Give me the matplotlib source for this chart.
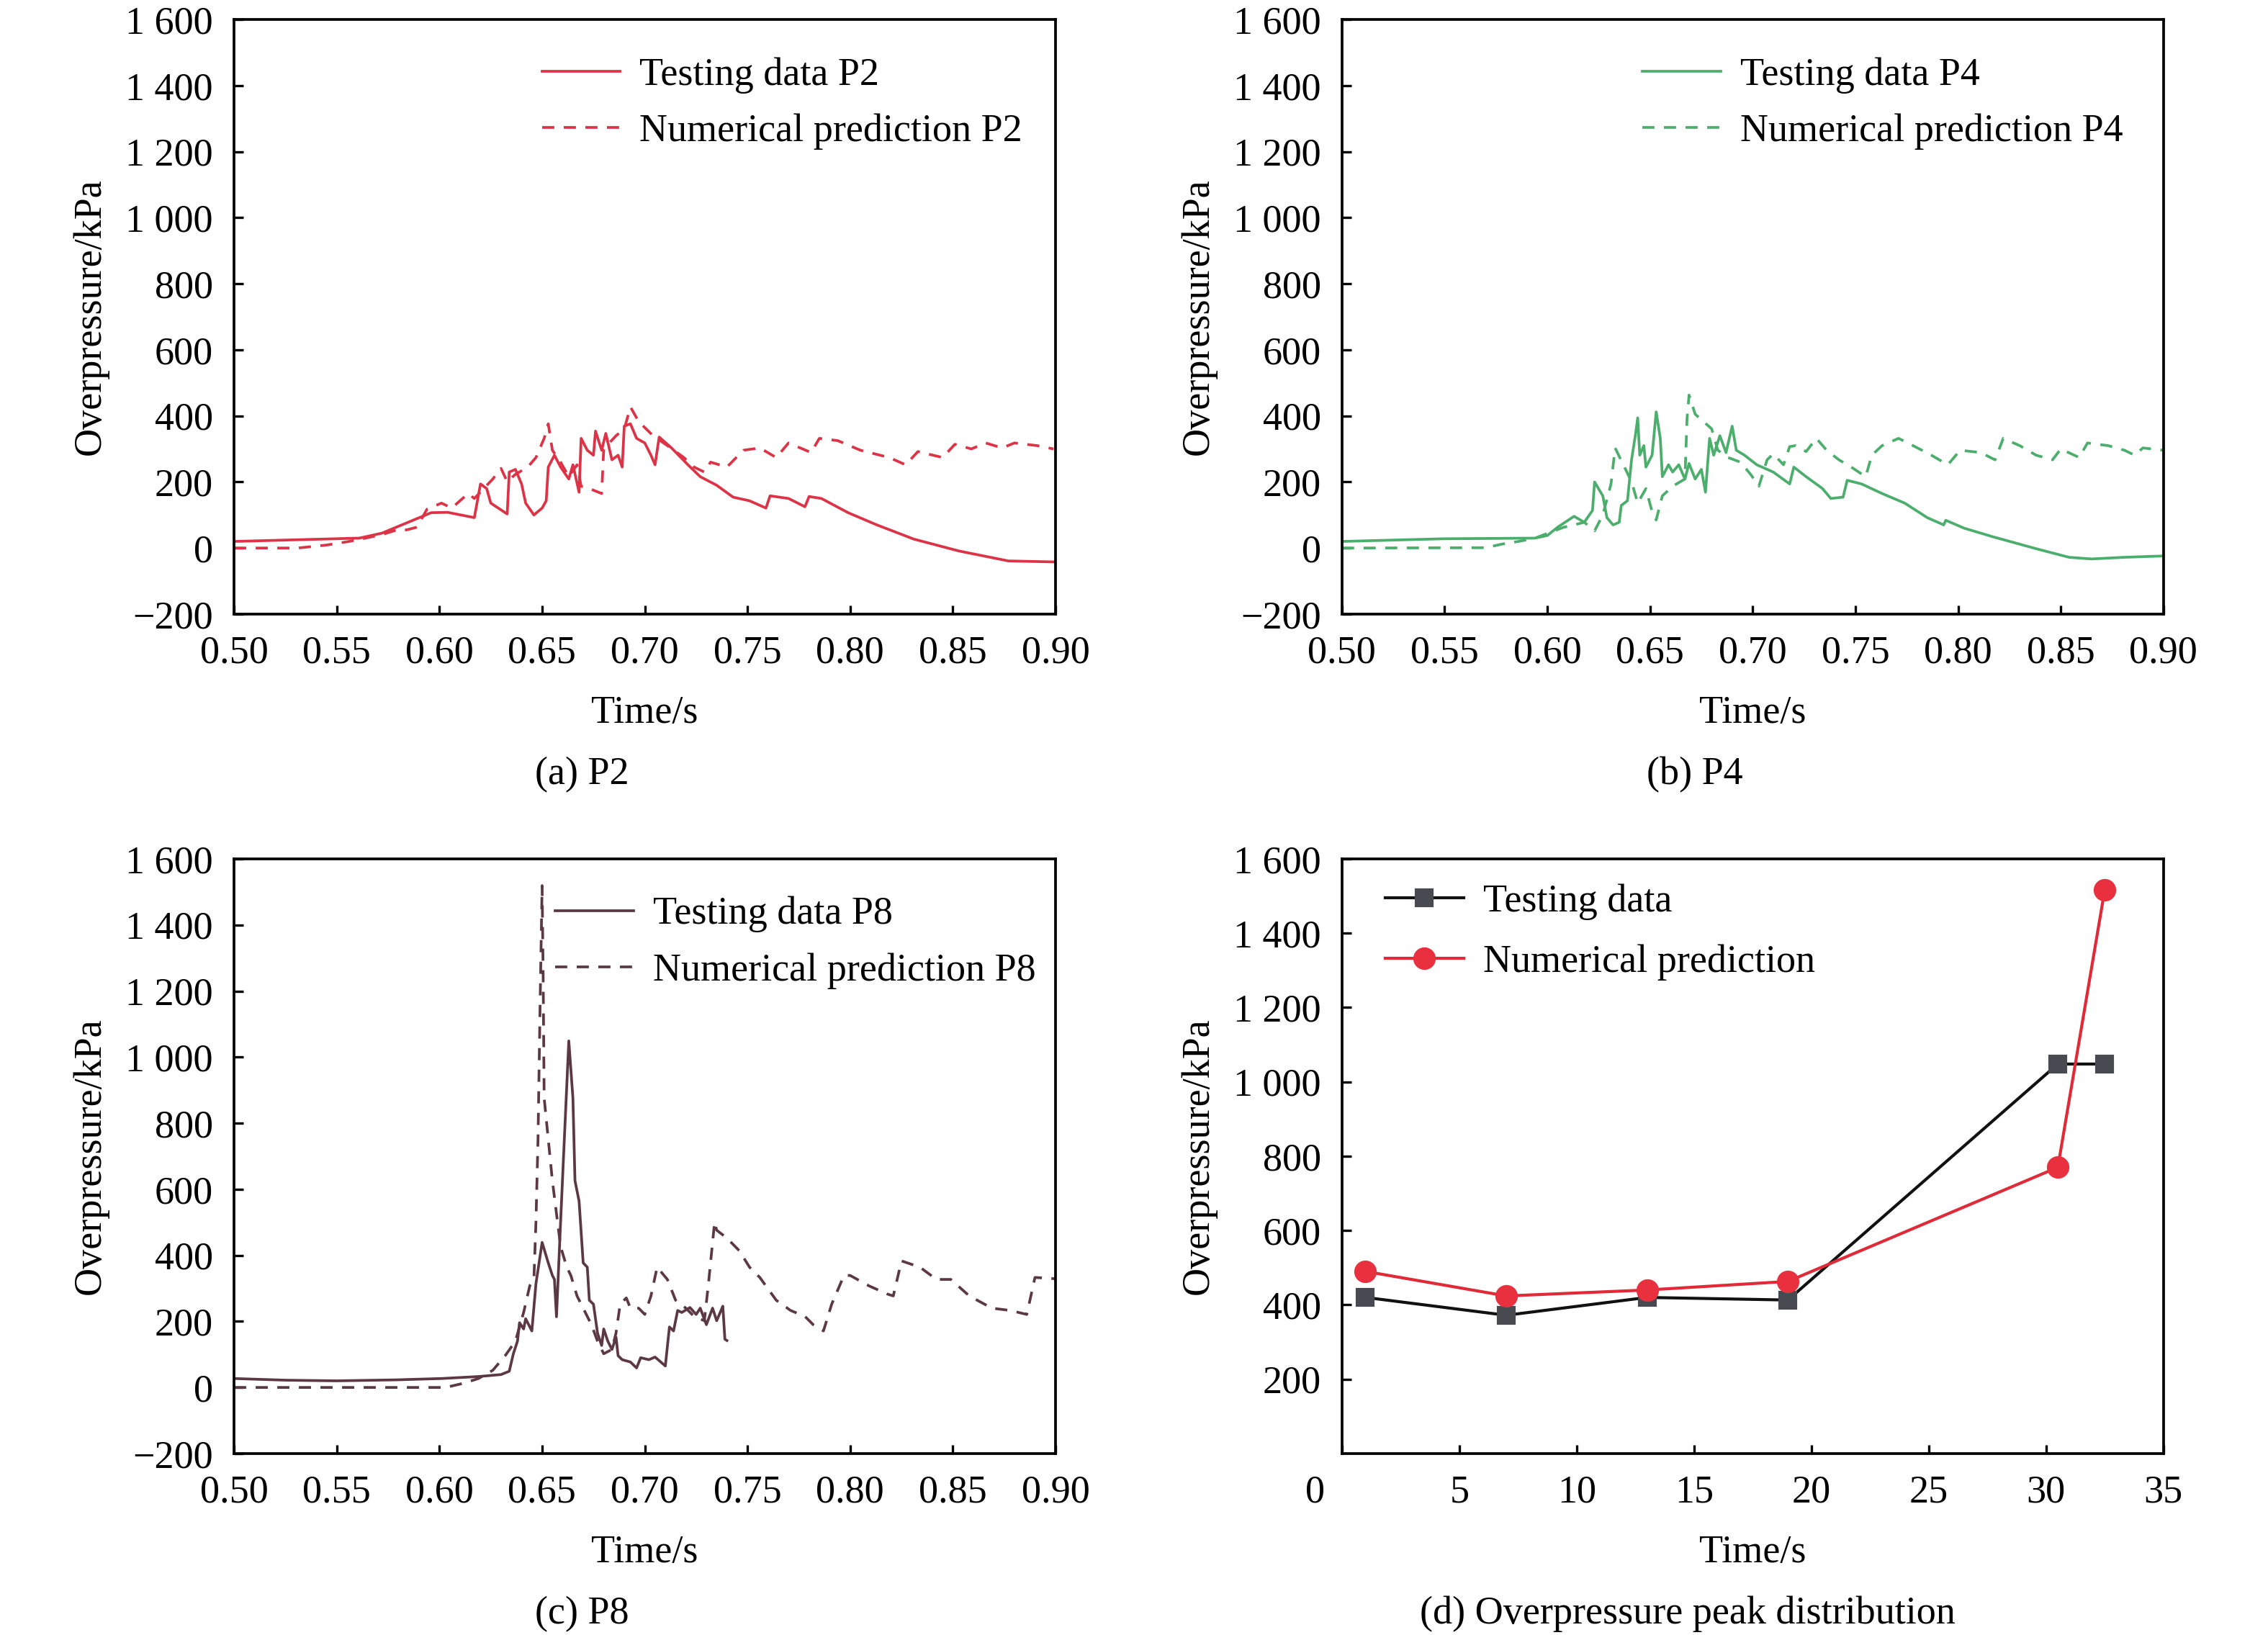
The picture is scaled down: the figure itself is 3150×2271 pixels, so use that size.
import numpy as np
import matplotlib.pyplot as plt
from matplotlib.ticker import FuncFormatter
import matplotlib.transforms as mtransforms

plt.rcParams['font.family'] = ['Liberation Serif', 'DejaVu Serif']
plt.rcParams['font.size'] = 13
plt.rcParams['mathtext.fontset'] = 'stix'

# (a) P2
p2_test_t = [0.500, 0.561, 0.572, 0.596, 0.604, 0.617, 0.620, 0.623, 0.625, 0.633, 0.634, 0.637,
             0.640, 0.642, 0.646, 0.650, 0.652, 0.653, 0.656, 0.659, 0.663, 0.665, 0.668, 0.669,
             0.672, 0.675, 0.676, 0.679, 0.681, 0.684, 0.687, 0.689, 0.690, 0.693, 0.696, 0.700,
             0.703, 0.705, 0.707, 0.713, 0.721, 0.727, 0.735, 0.743, 0.751, 0.759, 0.761, 0.770,
             0.778, 0.780, 0.786, 0.799, 0.813, 0.831, 0.853, 0.877, 0.899]
p2_test_p = [20, 30, 45, 107, 108, 92, 194, 180, 136, 103, 230, 238,
             194, 136, 100, 121, 143, 245, 281, 245, 209, 252, 169, 332,
             296, 281, 354, 296, 347, 267, 281, 245, 369, 376, 332, 318,
             281, 252, 336, 303, 252, 216, 190, 154, 143, 121, 158, 150,
             125, 156, 150, 107, 70, 27, -9, -39, -42]
p2_num_t = [0.500, 0.531, 0.545, 0.556, 0.564, 0.572, 0.580, 0.584, 0.589, 0.594, 0.601, 0.606,
            0.614, 0.617, 0.626, 0.630, 0.633, 0.637, 0.643, 0.647, 0.651, 0.653, 0.655, 0.659,
            0.663, 0.667, 0.669, 0.673, 0.679, 0.680, 0.686, 0.690, 0.693, 0.697, 0.704, 0.711,
            0.719, 0.724, 0.729, 0.732, 0.740, 0.748, 0.756, 0.764, 0.770, 0.781, 0.785, 0.794,
            0.805, 0.819, 0.827, 0.833, 0.845, 0.851, 0.859, 0.866, 0.874, 0.880, 0.891, 0.899]
p2_num_p = [0, 0, 9, 20, 30, 41, 56, 55, 63, 118, 136, 121,
            165, 150, 209, 241, 201, 223, 245, 274, 332, 376, 296, 260,
            216, 252, 187, 180, 165, 300, 340, 360, 427, 383, 340, 310,
            274, 245, 230, 260, 245, 296, 303, 274, 318, 289, 332, 325,
            296, 274, 252, 292, 274, 314, 300, 318, 303, 318, 310, 300]

# (b) P4
p4_test_t = [0.500, 0.549, 0.594, 0.600, 0.605, 0.613, 0.618, 0.622, 0.623, 0.627, 0.629, 0.632,
             0.635, 0.636, 0.639, 0.641, 0.643, 0.644, 0.645, 0.647, 0.648, 0.651, 0.653, 0.655,
             0.656, 0.659, 0.661, 0.664, 0.667, 0.669, 0.672, 0.675, 0.677, 0.679, 0.681, 0.684,
             0.687, 0.690, 0.692, 0.696, 0.702, 0.710, 0.718, 0.720, 0.726, 0.734, 0.738, 0.744,
             0.746, 0.753, 0.763, 0.774, 0.785, 0.793, 0.794, 0.803, 0.817, 0.838, 0.854, 0.865,
             0.881, 0.900]
p4_test_p = [20, 28, 30, 38, 63, 96, 78, 114, 200, 158, 92, 70,
             78, 129, 143, 267, 347, 394, 281, 310, 245, 281, 412, 332,
             216, 252, 230, 252, 209, 256, 209, 238, 169, 332, 281, 340,
             289, 369, 296, 281, 252, 230, 194, 245, 216, 180, 150, 154,
             205, 194, 165, 136, 92, 70, 84, 60, 34, -2, -28, -33,
             -28, -24]
p4_num_t = [0.500, 0.570, 0.578, 0.586, 0.594, 0.602, 0.608, 0.613, 0.618, 0.623, 0.627, 0.631,
            0.633, 0.637, 0.641, 0.644, 0.648, 0.651, 0.653, 0.656, 0.661, 0.667, 0.668, 0.669,
            0.672, 0.676, 0.680, 0.683, 0.688, 0.694, 0.699, 0.703, 0.707, 0.710, 0.715, 0.718,
            0.721, 0.726, 0.731, 0.736, 0.742, 0.748, 0.755, 0.758, 0.763, 0.771, 0.779, 0.787,
            0.795, 0.801, 0.811, 0.818, 0.822, 0.830, 0.838, 0.846, 0.850, 0.859, 0.863, 0.873,
            0.881, 0.886, 0.890, 0.900]
p4_num_p = [0, 1, 12, 20, 30, 49, 63, 70, 78, 52, 100, 194,
            303, 252, 201, 136, 180, 110, 85, 158, 187, 209, 390, 463,
            405, 383, 361, 296, 274, 260, 223, 187, 267, 285, 252, 307,
            310, 292, 332, 296, 267, 245, 216, 281, 310, 332, 307, 281,
            252, 296, 289, 267, 332, 310, 281, 267, 300, 274, 318, 310,
            296, 281, 303, 296]

# (c) P8
p8_test_t = [0.500, 0.525, 0.550, 0.579, 0.601, 0.619, 0.630, 0.634, 0.636, 0.638, 0.639, 0.641,
             0.642, 0.645, 0.647, 0.650, 0.653, 0.655, 0.656, 0.657, 0.659, 0.661, 0.663, 0.665,
             0.666, 0.668, 0.670, 0.672, 0.673, 0.675, 0.677, 0.679, 0.680, 0.682, 0.684, 0.686,
             0.687, 0.689, 0.693, 0.696, 0.698, 0.702, 0.705, 0.710, 0.712, 0.714, 0.716, 0.718,
             0.722, 0.725, 0.727, 0.730, 0.733, 0.735, 0.738, 0.739, 0.740]
p8_test_p = [27, 22, 20, 23, 27, 33, 39, 49, 102, 140, 196, 177,
             208, 171, 314, 439, 377, 339, 327, 214, 501, 776, 1049, 876,
             626, 564, 377, 364, 264, 252, 164, 127, 177, 140, 115, 152,
             96, 84, 77, 59, 90, 84, 92, 65, 183, 171, 233, 227,
             242, 221, 240, 190, 240, 202, 246, 146, 142]
p8_num_t = [0.500, 0.603, 0.612, 0.619, 0.626, 0.632, 0.637, 0.641, 0.644, 0.646, 0.647, 0.648,
            0.649, 0.650, 0.6505, 0.651, 0.653, 0.655, 0.657, 0.659, 0.662, 0.664, 0.667, 0.670,
            0.674, 0.677, 0.680, 0.684, 0.686, 0.688, 0.691, 0.693, 0.697, 0.700, 0.703, 0.706,
            0.711, 0.715, 0.720, 0.724, 0.729, 0.731, 0.734, 0.735, 0.740, 0.746, 0.751, 0.756,
            0.764, 0.771, 0.778, 0.782, 0.787, 0.791, 0.797, 0.800, 0.809, 0.818, 0.821, 0.825,
            0.834, 0.842, 0.849, 0.858, 0.869, 0.878, 0.886, 0.890, 0.900]
p8_num_p = [0, 0, 13, 27, 52, 96, 140, 227, 308, 327, 501, 751,
            1151, 1519, 1251, 876, 751, 626, 526, 427, 364, 339, 277, 240,
            190, 140, 102, 115, 165, 252, 271, 240, 240, 221, 277, 364,
            327, 264, 240, 215, 202, 314, 501, 476, 452, 414, 364, 333,
            264, 233, 215, 190, 171, 252, 339, 339, 308, 283, 277, 383,
            364, 327, 327, 277, 240, 233, 221, 333, 329]

# (d) peak distribution
peak_x = [1, 7, 13, 19, 30.5, 32.5]
peak_test = [420, 372, 420, 413, 1048, 1048]
peak_num = [490, 424, 440, 463, 770, 1517]

red = '#dc3446'
green = '#4cae6c'
maroon = '#5c3845'

def kfmt(v, pos):
    v = int(round(v))
    s = '{:,}'.format(abs(v)).replace(',', ' ')
    return ('\u2212' + s) if v < 0 else s

def style(ax):
    ax.tick_params(direction='in', length=3, width=0.8, pad=7, labelsize=13,
                   top=False, right=False)
    for sp in ax.spines.values():
        sp.set_linewidth(0.9)
    ax.yaxis.set_major_formatter(FuncFormatter(kfmt))
    ax.set_xlabel('Time/s', va='center')
    ax.set_ylabel('Overpressure/kPa', va='center')
    ax.xaxis.set_label_coords(0.5, -0.167)
    ax.yaxis.set_label_coords(-0.175, 0.5)

fig = plt.figure(figsize=(10.5, 7.57), dpi=300)
w, h = 0.3622, 0.3637
ax_a = fig.add_axes([0.1032, 0.6244, w, h])
ax_b = fig.add_axes([0.5917, 0.6244, w, h])
ax_c = fig.add_axes([0.1032, 0.1110, w, h])
ax_d = fig.add_axes([0.5917, 0.1110, w, h])

dash = (0, (4.5, 3.5))
panels = [
    (ax_a, p2_test_t, p2_test_p, p2_num_t, p2_num_p, red, 'P2', 0.375),
    (ax_b, p4_test_t, p4_test_p, p4_num_t, p4_num_p, green, 'P4', 0.366),
    (ax_c, p8_test_t, p8_test_p, p8_num_t, p8_num_p, maroon, 'P8', 0.391),
]
for ax, tt, tp, nt, npp, col, name, lx in panels:
    ax.plot(tt, tp, color=col, lw=0.9, label='Testing data ' + name)
    ax.plot(nt, npp, color=col, lw=0.9, ls=dash, label='Numerical prediction ' + name)
    ax.set_xlim(0.5, 0.9)
    ax.set_ylim(-200, 1600)
    ax.set_xticks(np.arange(0.5, 0.901, 0.05))
    ax.xaxis.set_major_formatter(FuncFormatter(lambda v, p: '%.2f' % v))
    ax.set_yticks(np.arange(-200, 1601, 200))
    style(ax)
    ax.legend(loc='upper left', bbox_to_anchor=(lx, 0.937), frameon=False,
              handlelength=2.0, handletextpad=0.5, labelspacing=0.52,
              borderpad=0, borderaxespad=0, fontsize=13)

ax_d.plot(peak_x, peak_test, color='#111111', lw=1.0, marker='s', ms=5.5,
          mfc='#474a50', mec='#474a50', label='Testing data')
ax_d.plot(peak_x, peak_num, color='#e02a38', lw=1.0, marker='o', ms=6.5,
          mfc='#e8303f', mec='#e8303f', label='Numerical prediction')
ax_d.set_xlim(0, 35)
ax_d.set_ylim(0, 1600)
ax_d.set_xticks(np.arange(0, 36, 5))
ax_d.set_yticks(np.arange(200, 1601, 200))
style(ax_d)
ax_d.legend(loc='upper left', bbox_to_anchor=(0.053, 0.958), frameon=False,
            handlelength=2.0, handletextpad=0.5, labelspacing=0.62,
            borderpad=0, borderaxespad=0, fontsize=13)
lab0 = ax_d.get_xticklabels()[0]
lab0.set_transform(lab0.get_transform() +
                   mtransforms.ScaledTranslation(-9 / 72, 0, fig.dpi_scale_trans))

caps = [('(a) P2', 0.2565, 0.5262), ('(b) P4', 0.7473, 0.5262),
        ('(c) P8', 0.2565, 0.0128), ('(d) Overpressure peak distribution', 0.744, 0.0128)]
for txt, x, y in caps:
    fig.text(x, y, txt, ha='center', va='center', fontsize=13)

fig.savefig('out.png', dpi=300)
